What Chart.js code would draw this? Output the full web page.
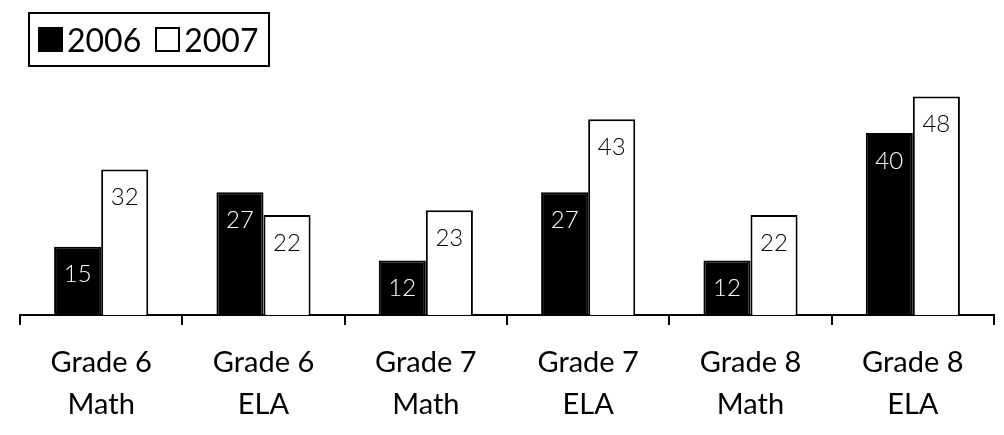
<!DOCTYPE html>
<html>
<head>
<meta charset="utf-8">
<script src="https://cdn.jsdelivr.net/npm/chart.js@4"></script>
<style>
  html, body { margin: 0; padding: 0; background: #fff; }
  #wrap { position: relative; width: 1004px; height: 435px; }
  #legend {
    position: absolute; left: 28px; top: 12px; width: 230px; height: 51px;
    border: 2px solid #000; display: flex; align-items: center;
    padding-left: 8px; box-sizing: content-box;
    font-family: Lato, sans-serif; font-size: 32px; color: #000;
  }
  #legend .sw { width: 25px; height: 25px; box-sizing: border-box; border: 2px solid #000; margin-right: 4px; }
  #legend .it { display: flex; align-items: center; margin-right: 14px; }
</style>
</head>
<body>
<div id="wrap">
  <canvas id="c" width="1004" height="435"></canvas>
  <div id="legend"></div>
</div>
<script>
// Categorias e valores
const categories = [
  ['Grade 6', 'Math'], ['Grade 6', 'ELA'],
  ['Grade 7', 'Math'], ['Grade 7', 'ELA'],
  ['Grade 8', 'Math'], ['Grade 8', 'ELA']
];
const values2006 = [15, 27, 12, 27, 12, 40];
const values2007 = [32, 22, 23, 43, 22, 48];
const seriesLabels = ['2006', '2007'];
const seriesColors = ['#000000', '#ffffff'];
const labelColors = ['#ffffff', '#000000'];

// Rótulos dentro das barras
const barLabels = {
  id: 'barLabels',
  afterDatasetsDraw(chart) {
    const ctx = chart.ctx;
    ctx.save();
    ctx.font = '300 24px Lato, sans-serif';
    ctx.textAlign = 'center';
    ctx.textBaseline = 'middle';
    chart.data.datasets.forEach((ds, i) => {
      chart.getDatasetMeta(i).data.forEach((bar, j) => {
        ctx.fillStyle = labelColors[i];
        ctx.fillText(ds.data[j], bar.x, bar.y + 28);
      });
    });
    ctx.restore();
  }
};

const chart = new Chart(document.getElementById('c'), {
  type: 'bar',
  data: {
    labels: categories,
    datasets: [
      { label: seriesLabels[0], data: values2006, backgroundColor: seriesColors[0], borderColor: '#000', borderWidth: 2 },
      { label: seriesLabels[1], data: values2007, backgroundColor: seriesColors[1], borderColor: '#000', borderWidth: 2 }
    ]
  },
  options: {
    responsive: false,
    animation: false,
    layout: { padding: { left: 20, right: 10, top: 87.5, bottom: -8 } },
    plugins: { legend: { display: false }, tooltip: { enabled: false } },
    datasets: { bar: { categoryPercentage: 0.58, barPercentage: 1.0 } },
    scales: {
      x: {
        grid: { display: true, drawOnChartArea: false, drawTicks: true, tickLength: 10, color: '#000', lineWidth: 2 },
        border: { display: true, color: '#000', width: 2 },
        ticks: { color: '#000', padding: 17, font: { family: 'Lato, sans-serif', size: 29, lineHeight: '42px' } }
      },
      y: { display: false, min: 0, max: 50 }
    }
  },
  plugins: [barLabels]
});

// Legenda em HTML com caixa
const legend = document.getElementById('legend');
chart.data.datasets.forEach((ds) => {
  const it = document.createElement('div');
  it.className = 'it';
  const sw = document.createElement('div');
  sw.className = 'sw';
  sw.style.background = ds.backgroundColor;
  const tx = document.createElement('span');
  tx.textContent = ds.label;
  it.appendChild(sw);
  it.appendChild(tx);
  legend.appendChild(it);
});
</script>
</body>
</html>
